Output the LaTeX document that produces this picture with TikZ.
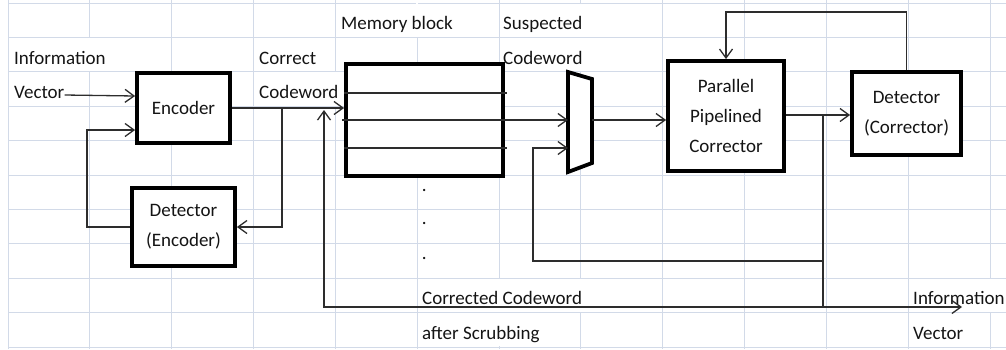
\documentclass[tikz,border=0pt]{standalone}
\usepackage{fontspec}
\setmainfont{Carlito}
\usetikzlibrary{arrows.meta}
\definecolor{gridblue}{RGB}{210,218,232}
\definecolor{ink}{RGB}{20,20,20}
\definecolor{wirec}{RGB}{45,45,45}
\begin{document}
\begin{tikzpicture}[x=1pt,y=-1pt,
  every node/.style={font=\fontsize{19}{30}\selectfont, text=ink},
  lbl/.style={anchor=base west, inner sep=0pt},
  block/.style={draw=black, line width=3.8pt, fill=white, align=center, inner sep=0pt},
  wire/.style={draw=wirec, line width=1.3pt},
  arr/.style={wire, -{Straight Barb[length=9pt,width=13pt,line width=1.3pt]}},
  gridline/.style={draw=gridblue, line width=1pt},
  gridgap/.style={draw=white, line width=1.8pt}
]
\useasboundingbox (0,0) rectangle (1006,349);

% spreadsheet cell grid
\foreach \i in {0,...,12}
  \draw[gridline] ({8+81.85*\i},0) -- ({8+81.85*\i},349);
\foreach \j in {0,...,10}
  \draw[gridline] (8,{3+34.4*\j}) -- (1006,{3+34.4*\j});
% cell borders hidden under overflowing text
\draw[gridgap] (89.85,38) -- (89.85,71.2);
\draw[gridgap] (335.4,72.4) -- (335.4,105.6);
\draw[gridgap] (417.25,0) -- (417.25,36.8);
\draw[gridgap] (580.95,3.6) -- (580.95,36.8);
\draw[gridgap] (580.95,38) -- (580.95,71.2);
\draw[gridgap] (499.1,278.8) -- (499.1,312);
\draw[gridgap] (499.1,313.2) -- (499.1,346.4);
\draw[gridgap] (580.95,278.8) -- (580.95,312);
\draw[gridgap] (990.2,278.8) -- (990.2,312);

% blocks
\node[block, minimum width=93pt, minimum height=70pt] (enc) at (183.5,108) {Encoder};
\node[block, minimum width=103pt, minimum height=78pt] (dete) at (183.5,227) {Detector\\(Encoder)};
\node[block, minimum width=157pt, minimum height=112pt] (mem) at (424.5,120) {};
\node[block, minimum width=116pt, minimum height=110pt] (ppc) at (726,116) {Parallel\\Pipelined\\Corrector};
\node[block, minimum width=109pt, minimum height=83pt] (detc) at (906.5,113.5) {Detector\\(Corrector)};

% multiplexer
\coordinate (m1) at (568,72);
\coordinate (m2) at (592,79);
\coordinate (m3) at (592,163);
\coordinate (m4) at (568,172);
\draw[draw=black, fill=white, line width=3.8pt, line join=miter] (m1) -- (m2) -- (m3) -- (m4) -- cycle;

% text labels
\node[lbl] (linfo) at (14,64) {Information};
\node[lbl] (lvec) at (14,98) {Vector};
\node[lbl] (lcorr) at (259,64) {Correct};
\node[lbl] (lcw) at (259,98) {Codeword};
\node[lbl] (lmem) at (341,29) {Memory block};
\node[lbl] (lsus) at (503,29) {Suspected};
\node[lbl] (lscw) at (503,64) {Codeword};
\node[lbl] (dot1) at (421.6,191.5) {.};
\node[lbl] (dot2) at (421.6,224.5) {.};
\node[lbl] (dot3) at (421.6,259.5) {.};
\node[lbl] (lcc) at (422,304) {Corrected Codeword};
\node[lbl] (lscr) at (422,339) {after Scrubbing};
\node[lbl] (loinfo) at (913,304) {Information};
\node[lbl] (lovec) at (913,339) {Vector};

% memory rows
\draw[wire] (mem.west |- 0,93) -- (507,93);
\draw[wire] (mem.west |- 0,148) -- (507,148);
\draw[arr] (342,120) -- (m1 |- 0,120);

% encoder side
\draw[arr] ([yshift=3pt]lvec.base east) -- (enc.west |- 0,96);
\draw[arr] (enc.east) -- (mem.west |- enc.east);
\coordinate (tap) at (282,108);
\draw[arr] (tap) |- (dete.east);
\draw[arr] (dete.west) -- (87,227) |- (enc.west |- 0,130);

% corrector side
\draw[arr] (m2 |- 0,120) -- (ppc.west |- 0,120);
\draw[arr] (ppc.east |- 0,115) -- (detc.west |- 0,115);
\draw[arr] (detc.north) |- (726,12) -- (ppc.north);
\coordinate (jn) at (823,115);
\coordinate (jm) at (823,261);
\coordinate (jb) at (823,307);
\draw[wire] (jn) -- (jb);
\draw[arr] (jm) -| (533,148) -- (m1 |- 0,148);
\draw[arr] (jb) -- (962,307);
\draw[arr] (jb) -- (324,307) -- (324,110);
\end{tikzpicture}
\end{document}
